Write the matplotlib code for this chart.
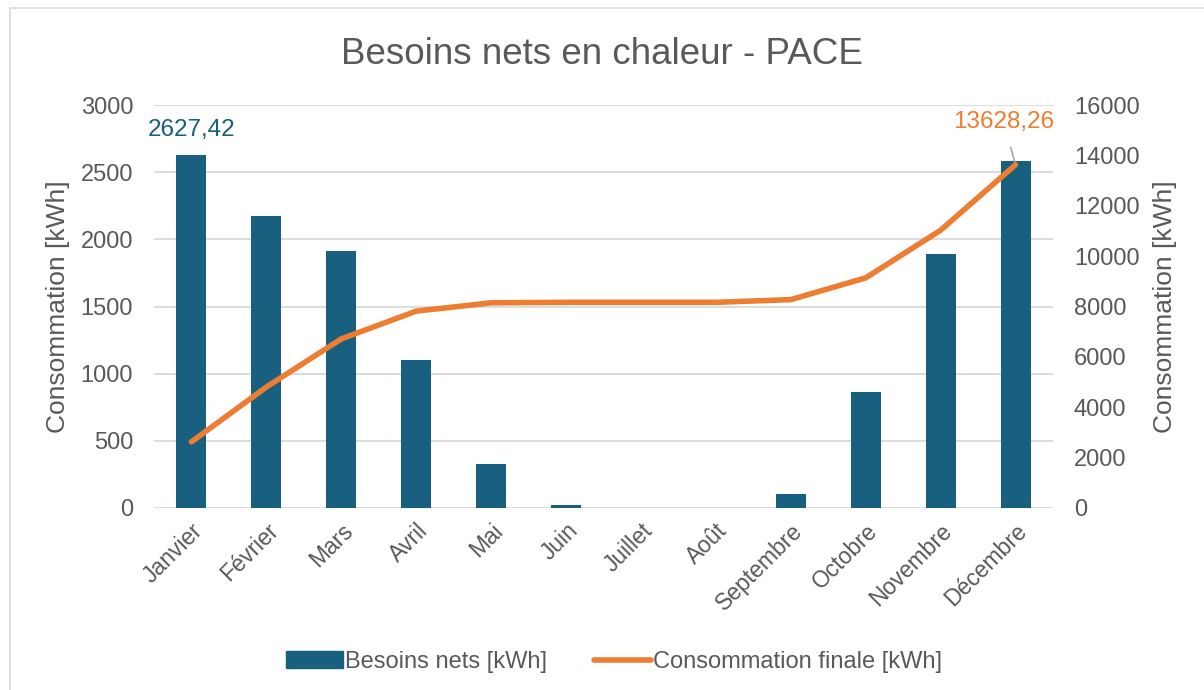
import matplotlib.pyplot as plt
import numpy as np
from matplotlib.patches import Rectangle
from matplotlib.lines import Line2D

plt.rcParams['font.family'] = ['Liberation Sans', 'DejaVu Sans']

mois = ['Janvier', 'Février', 'Mars', 'Avril', 'Mai', 'Juin', 'Juillet',
        'Août', 'Septembre', 'Octobre', 'Novembre', 'Décembre']
besoins_nets = [2627.42, 2176, 1911, 1102, 330, 20, 0, 0, 107, 864, 1891, 2583]
conso_finale = [2627.42, 4803, 6714, 7816, 8146, 8166, 8166, 8166, 8273, 9137, 11028, 13628.26]

BLEU = '#185F80'
ORANGE = '#ED7D31'
GRIS = '#595959'
GRILLE = '#D9D9D9'

fig = plt.figure(figsize=(12.04, 6.9), dpi=100)
ax = fig.add_axes([154 / 1204, 1 - 508 / 690, 899 / 1204, 403 / 690])
ax2 = ax.twinx()

x = np.arange(len(mois))
ax.bar(x, besoins_nets, width=0.4, color=BLEU, zorder=2)
ax2.plot(x, conso_finale, color=ORANGE, lw=4, solid_capstyle='round', zorder=3)

ax.set_xlim(-0.5, len(mois) - 0.5)
ax.set_ylim(0, 3000)
ax.set_yticks(np.arange(0, 3001, 500))
ax2.set_ylim(0, 16000)
ax2.set_yticks(np.arange(0, 16001, 2000))

ax.set_xticks(x)
ax.set_xticklabels(mois, rotation=45, ha='right', rotation_mode='anchor')
ax.grid(axis='y', color=GRILLE, lw=1.3, zorder=0)
ax.set_axisbelow(True)

for a in (ax, ax2):
    for s in a.spines.values():
        s.set_visible(False)
    a.tick_params(length=0, labelsize=17, colors=GRIS)
ax.tick_params(axis='y', pad=15)
ax2.tick_params(axis='y', pad=15)
ax.tick_params(axis='x', pad=8, labelsize=16.5)

ax.set_ylabel('Consommation [kWh]', fontsize=19, color=GRIS, labelpad=8)
ax2.set_ylabel('Consommation [kWh]', fontsize=19, color=GRIS, labelpad=10)

fig.text(0.5, 1 - 54 / 690, 'Besoins nets en chaleur - PACE', ha='center',
         va='center', fontsize=26.5, color=GRIS)

# étiquettes de valeur
ax.annotate(f'{besoins_nets[0]:.2f}'.replace('.', ','), (x[0], besoins_nets[0]),
            xytext=(0, 25), textcoords='offset pixels', ha='center', va='center',
            fontsize=17.5, color=BLEU)
ax2.annotate(f'{conso_finale[-1]:.2f}'.replace('.', ','), (x[-1], conso_finale[-1]),
             xytext=(-12, 43), textcoords='offset pixels', ha='center', va='center',
             fontsize=17.5, color=ORANGE,
             arrowprops=dict(arrowstyle='-', color='#A6A6A6', lw=1.2,
                             shrinkA=9, shrinkB=2))

handles = [Rectangle((0, 0), 1, 1, color=BLEU),
           Line2D([0], [0], color=ORANGE, lw=4, solid_capstyle='round')]
fig.legend(handles, ['Besoins nets [kWh]', 'Consommation finale [kWh]'],
           loc='center', bbox_to_anchor=(0.51, 1 - 662 / 690), ncol=2,
           frameon=False, fontsize=17, labelcolor=GRIS, handlelength=2.4,
           handletextpad=0.1, columnspacing=2.0)

# cadre du graphique
fig.patches.append(Rectangle((10 / 1204, -0.01), 1.02, 1 - 8 / 690 + 0.01,
                             transform=fig.transFigure, fill=False,
                             edgecolor=GRILLE, lw=1.2))

fig.savefig('out.png', dpi=100)
